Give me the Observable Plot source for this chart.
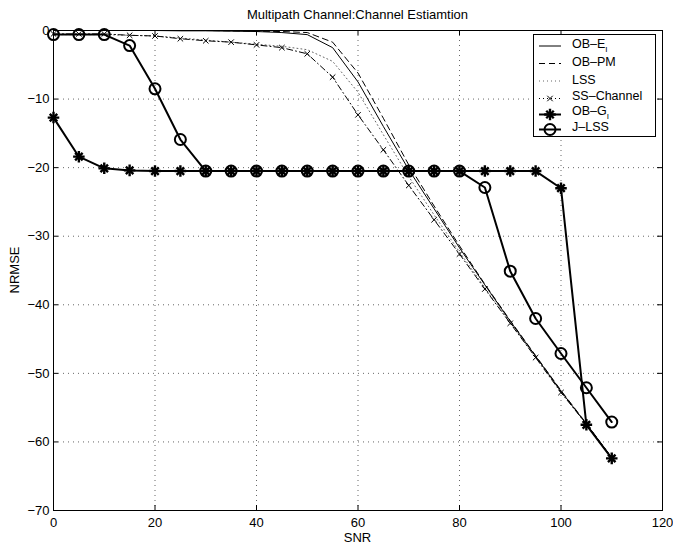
<!DOCTYPE html>
<html><head><meta charset="utf-8">
<script src="https://cdn.jsdelivr.net/npm/d3@7"></script>
<script src="https://cdn.jsdelivr.net/npm/@observablehq/plot@0.6"></script>
<style>body{margin:0;background:#fff} svg{display:block}</style>
</head><body><div id="chart"></div>
<script>
const title = "Multipath Channel:Channel Estiamtion";
const xLabel = "SNR";
const yLabel = "NRMSE";
const xTicks = [0, 20, 40, 60, 80, 100, 120];
const yTicks = [0, -10, -20, -30, -40, -50, -60, -70];
const seriesNames = ["OB–E", "OB–PM", "LSS", "SS–Channel", "OB–G", "J–LSS"];
const seriesSubs = ["I", "", "", "", "I", ""];

const snr   = [0, 5, 10, 15, 20, 25, 30, 35, 40, 45, 50, 55, 60, 65, 70, 75, 80, 85, 90, 95, 100, 105, 110];
const obEI  = [0, 0, 0, 0, 0, -0.05, -0.05, -0.1, -0.15, -0.3, -0.6, -2.5, -7.5, -14, -20.3, -26, -31.7, -37.1, -42.4, -47.5, -52.6, -57.4, -62.3];
const obPM  = [0, 0, 0, 0, 0, 0, 0, -0.05, -0.1, -0.15, -0.3, -1.7, -6.2, -12.8, -19.6, -25.6, -31.4, -37, -42.3, -47.4, -52.5, -57.3, -62.3];
const lss   = [-0.6, -0.6, -0.6, -0.7, -0.8, -1.1, -1.4, -1.7, -2.0, -2.3, -2.8, -4.5, -9, -15.2, -21.3, -26.9, -32.3, -37.5, -42.6, -47.6, -52.7, -57.4, -62.3];
const ssCh  = [-0.5, -0.5, -0.5, -0.7, -0.8, -1.2, -1.5, -1.7, -2.1, -2.5, -3.4, -6.8, -12.3, -17.4, -22.6, -27.6, -32.6, -37.7, -42.7, -47.7, -52.8, -57.4, -62.4];
const obGI  = [-12.7, -18.4, -20.1, -20.4, -20.5, -20.5, -20.5, -20.5, -20.5, -20.5, -20.5, -20.5, -20.5, -20.5, -20.5, -20.5, -20.5, -20.5, -20.5, -20.5, -23, -57.5, -62.4];
const jlss  = [-0.6, -0.6, -0.6, -2.2, -8.5, -15.9, -20.5, -20.5, -20.5, -20.5, -20.5, -20.5, -20.5, -20.5, -20.5, -20.5, -20.5, -22.9, -35.1, -42.0, -47.1, -52.1, -57.1];

const W = 673, H = 546, mL = 53, mR = 11, mT = 30, mB = 36;
const pw = W - mL - mR, ph = H - mT - mB;
const font = "'Liberation Sans', Arial, Helvetica, sans-serif";
const fs = 13;
const lfs = 12.5;

const grid = {stroke: "#000", strokeOpacity: 0.6, strokeDasharray: "1,4", strokeWidth: 1};
const plot = Plot.plot({
  width: W, height: H,
  marginLeft: mL, marginRight: mR, marginTop: mT, marginBottom: mB,
  style: {fontFamily: font, fontSize: fs + "px", background: "white", color: "black", overflow: "visible"},
  x: {domain: [0, 120], ticks: xTicks, tickSize: 0, tickPadding: 7, label: null},
  y: {domain: [-70, 0], ticks: yTicks, tickSize: 0, tickPadding: 4, label: null},
  marks: [
    Plot.ruleX(xTicks, grid),
    Plot.ruleY(yTicks, grid),
    Plot.ruleX(xTicks, {insetTop: ph - 5, stroke: "#000"}),
    Plot.ruleX(xTicks, {insetBottom: ph - 5, stroke: "#000"}),
    Plot.ruleY(yTicks, {insetRight: pw - 5, stroke: "#000"}),
    Plot.ruleY(yTicks, {insetLeft: pw - 5, stroke: "#000"}),
    Plot.line(snr, {x: snr, y: obEI, stroke: "#000", strokeWidth: 1}),
    Plot.line(snr, {x: snr, y: obPM, stroke: "#000", strokeWidth: 1, strokeDasharray: "6,4"}),
    Plot.line(snr, {x: snr, y: lss, stroke: "#000", strokeOpacity: 0.6, strokeWidth: 1, strokeDasharray: "1,3"}),
    Plot.line(snr, {x: snr, y: ssCh, stroke: "#000", strokeWidth: 1, strokeDasharray: "6,3,1,3"}),
    Plot.dot(snr, {x: snr, y: ssCh, symbol: "times", r: 2.6, stroke: "#000", strokeWidth: 1}),
    Plot.line(snr, {x: snr, y: obGI, stroke: "#000", strokeWidth: 2}),
    Plot.dot(snr, {x: snr, y: obGI, symbol: "plus", r: 3.8, stroke: "#000", strokeWidth: 2.4}),
    Plot.dot(snr, {x: snr, y: obGI, symbol: "times", r: 3.5, stroke: "#000", strokeWidth: 2.4}),
    Plot.line(snr, {x: snr, y: jlss, stroke: "#000", strokeWidth: 2}),
    Plot.dot(snr, {x: snr, y: jlss, symbol: "circle", r: 5.5, stroke: "#000", strokeWidth: 2, fill: "none"}),
    Plot.frame({stroke: "#000"})
  ]
});
document.getElementById("chart").appendChild(plot);

const svg = d3.select(plot);
svg.append("text").attr("x", mL + pw / 2).attr("y", 18.5).attr("text-anchor", "middle")
  .attr("font-family", font).attr("font-size", fs).attr("fill", "#000").text(title);
svg.append("text").attr("x", mL + pw / 2).attr("y", 542).attr("text-anchor", "middle")
  .attr("font-family", font).attr("font-size", fs).attr("fill", "#000").text(xLabel);
svg.append("text").attr("transform", `translate(19,${mT + ph / 2}) rotate(-90)`).attr("text-anchor", "middle")
  .attr("font-family", font).attr("font-size", fs).attr("fill", "#000").text(yLabel);

// legend
const lg = svg.append("g").attr("text-anchor", "start");
lg.append("rect").attr("x", 533.5).attr("y", 34.5).attr("width", 122).attr("height", 102)
  .attr("fill", "#fff").attr("stroke", "#000");
const styles = [
  {dash: null, w: 1, op: 1, m: null},
  {dash: "6,4", w: 1, op: 1, m: null},
  {dash: "1,3", w: 1, op: 0.6, m: null},
  {dash: "1,3", w: 1, op: 1, m: "times"},
  {dash: null, w: 2, op: 1, m: "ast"},
  {dash: null, w: 2, op: 1, m: "circle"}
];
const rowsLine = [46, 63.5, 81, 98.5, 114.5, 129.5];
const rowsText = [44, 62, 79.5, 96, 111, 126.5];
seriesNames.forEach((name, i) => {
  const s = styles[i];
  const y = rowsLine[i];
  lg.append("line").attr("x1", 539).attr("x2", 561).attr("y1", y).attr("y2", y)
    .attr("stroke", "#000").attr("stroke-width", s.w).attr("stroke-opacity", s.op)
    .attr("stroke-dasharray", s.dash);
  const g = lg.append("g").attr("transform", `translate(550,${y})`).attr("fill", "none").attr("stroke", "#000");
  if (s.m === "times") g.append("path").attr("d", d3.symbol(d3.symbolTimes, Math.PI * 2.6 * 2.6)()).attr("stroke-width", 1);
  if (s.m === "ast") {
    g.append("path").attr("d", d3.symbol(d3.symbolPlus, Math.PI * 3.8 * 3.8)()).attr("stroke-width", 2.4);
    g.append("path").attr("d", d3.symbol(d3.symbolTimes, Math.PI * 3.5 * 3.5)()).attr("stroke-width", 2.4);
  }
  if (s.m === "circle") g.append("circle").attr("r", 5.5).attr("stroke-width", 2);
  const t = lg.append("text").attr("x", 572).attr("y", rowsText[i]).attr("dy", "0.35em")
    .attr("text-anchor", "start")
    .attr("font-family", font).attr("font-size", lfs).attr("fill", "#000").text(name);
  if (seriesSubs[i]) t.append("tspan").attr("font-size", 8).attr("dy", 3.5).text(seriesSubs[i]);
});
</script>
</body></html>
